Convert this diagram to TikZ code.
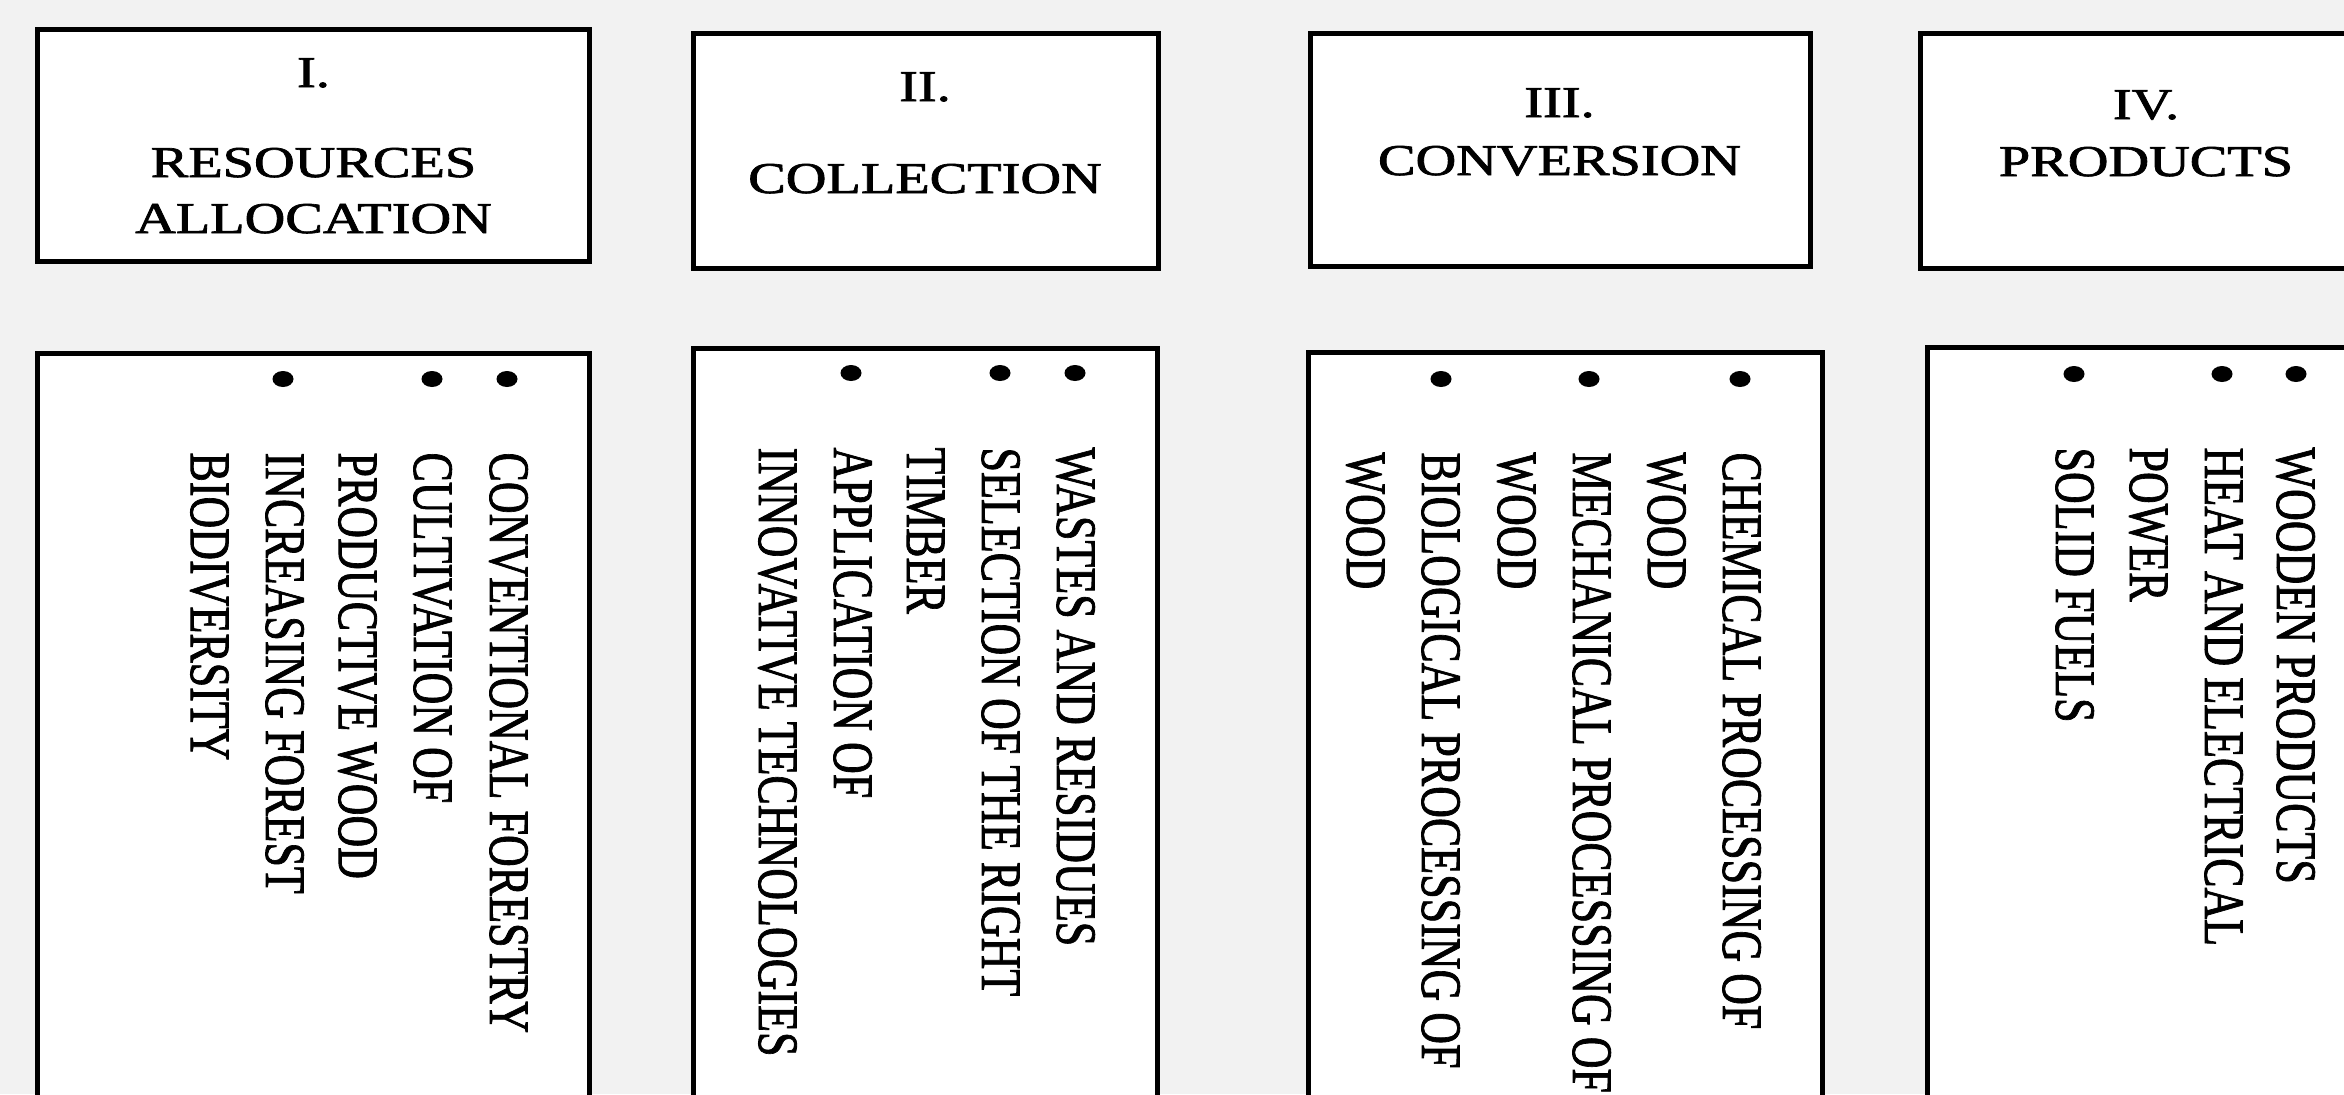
\documentclass[tikz,border=0pt]{standalone}
\usepackage{fontspec}
\setmainfont{Liberation Serif}
\newfontfamily\heavyserif{Liberation Serif}[FakeBold=1.5]
\usetikzlibrary{fit,shapes.geometric}
\definecolor{bgcol}{HTML}{F2F2F2}
\newcommand\bodyfont{\heavyserif\fontsize{17.6}{23.1}\selectfont}
\newcommand\lines[1]{\begin{tabular}[t]{@{}l@{}}#1\end{tabular}}
\begin{document}
\begin{tikzpicture}[x=0.4pt,y=-0.4pt,
  panel/.style={draw=black, line width=2pt, fill=white, inner sep=0pt, rectangle},
  htext/.style={xscale=1.28, anchor=base, inner sep=0pt, font=\bodyfont},
  vtext/.style={xscale=1.3, rotate=-90, anchor=base west, inner sep=0pt, font=\bodyfont},
  bulletdot/.style={ellipse, fill=black, inner sep=0pt, minimum width=8.4pt, minimum height=6.4pt}
]
\path[use as bounding box, fill=bgcol] (0,0) rectangle (2344,1094);
\clip (0,0) rectangle (2344,1094);

% header boxes
\node[panel, fit={(37,29) (589,261)}] (h1) {};
\node[panel, fit={(693,33) (1158,268)}] (h2) {};
\node[panel, fit={(1310,33) (1810,266)}] (h3) {};
\node[panel, fit={(1920,33) (2380,268)}] (h4) {};

% list boxes
\node[panel, fit={(37,353) (589,1120)}] (l1) {};
\node[panel, fit={(693,348) (1157,1120)}] (l2) {};
\node[panel, fit={(1308,352) (1822,1120)}] (l3) {};
\node[panel, fit={(1927,347) (2380,1120)}] (l4) {};

% header texts
\node[htext] (h1n) at (313.5,87) {I.};
\node[htext] (h1a) at (313.5,177) {RESOURCES};
\node[htext] (h1b) at (313.5,233) {ALLOCATION};
\node[htext] (h2n) at (925,101) {II.};
\node[htext] (h2a) at (925,193) {COLLECTION};
\node[htext] (h3n) at (1559.5,117) {III.};
\node[htext] (h3a) at (1559.5,175) {CONVERSION};
\node[htext] (h4n) at (2146,119) {IV.};
\node[htext] (h4a) at (2146,176) {PRODUCTS};

% list I
\node[bulletdot] (b1a) at (507,379) {};
\node[bulletdot] (b1b) at (432,379) {};
\node[bulletdot] (b1c) at (283,379) {};
\node[vtext] (t1a) at (490,452) {\lines{CONVENTIONAL FORESTRY}};
\node[vtext] (t1b) at (414,452) {\lines{CULTIVATION OF\\PRODUCTIVE WOOD}};
\node[vtext] (t1c) at (266,452) {\lines{INCREASING FOREST\\BIODIVERSITY}};

% list II
\node[bulletdot] (b2a) at (1075,373) {};
\node[bulletdot] (b2b) at (1000,373) {};
\node[bulletdot] (b2c) at (851,373) {};
\node[vtext] (t2a) at (1057,447) {\lines{WASTES AND RESIDUES}};
\node[vtext] (t2b) at (982,447) {\lines{SELECTION OF THE RIGHT\\TIMBER}};
\node[vtext] (t2c) at (834,447) {\lines{APPLICATION OF\\INNOVATIVE TECHNOLOGIES}};

% list III
\node[bulletdot] (b3a) at (1740,379) {};
\node[bulletdot] (b3b) at (1589,379) {};
\node[bulletdot] (b3c) at (1441,379) {};
\node[vtext] (t3a) at (1723,452) {\lines{CHEMICAL PROCESSING OF\\WOOD}};
\node[vtext] (t3b) at (1573,452) {\lines{MECHANICAL PROCESSING OF\\WOOD}};
\node[vtext] (t3c) at (1422,452) {\lines{BIOLOGICAL PROCESSING OF\\WOOD}};

% list IV
\node[bulletdot] (b4a) at (2296,374) {};
\node[bulletdot] (b4b) at (2222,374) {};
\node[bulletdot] (b4c) at (2074,374) {};
\node[vtext] (t4a) at (2277,447) {\lines{WOODEN PRODUCTS}};
\node[vtext] (t4b) at (2205,447) {\lines{HEAT AND ELECTRICAL\\POWER}};
\node[vtext] (t4c) at (2056,447) {\lines{SOLID FUELS}};
\end{tikzpicture}
\end{document}
